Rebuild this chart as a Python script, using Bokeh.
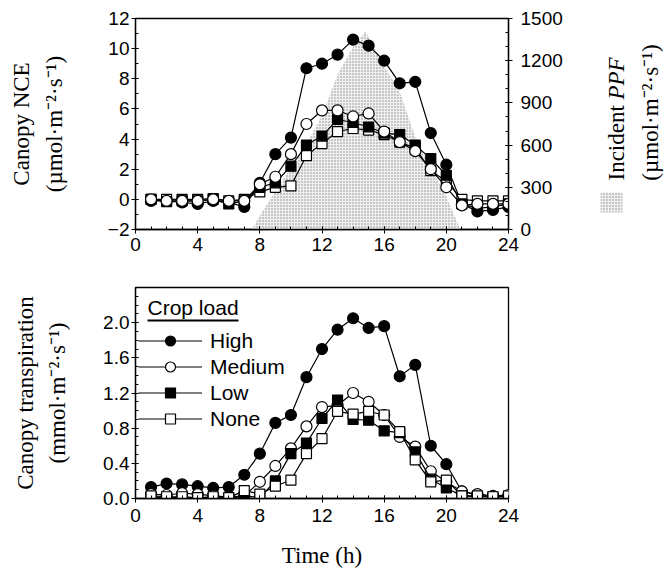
import math
from bokeh.plotting import figure
from bokeh.models import (Range1d, LinearAxis, SingleIntervalTicker, Legend, LegendItem,
                          Label, BoxAnnotation, PrintfTickFormatter)
from bokeh.layouts import column, row
from bokeh.embed import file_html
from bokeh.resources import INLINE

# ---------------- data ----------------
hours = list(range(1, 25))

nce_high = [-0.1, -0.1, -0.2, -0.3, -0.1, -0.2, -0.5, 1.1, 3.0, 4.1, 8.7, 9.0, 9.6, 10.6,
            10.2, 9.2, 7.7, 7.8, 4.4, 2.3, -0.3, -0.8, -0.7, -0.5]
nce_medium = [0.0, -0.1, -0.1, -0.1, 0.0, -0.1, -0.1, 1.0, 1.5, 3.0, 5.0, 5.9, 5.9, 5.5,
              5.7, 4.5, 3.8, 3.2, 2.0, 0.8, -0.4, -0.3, -0.3, -0.3]
nce_low = [0.0, -0.15, -0.1, -0.1, 0.0, -0.3, -0.1, 0.8, 1.1, 2.2, 3.6, 4.2, 5.3, 5.1,
           4.8, 4.4, 4.3, 3.6, 2.7, 1.6, -0.3, -0.6, -0.5, -0.3]
nce_none = [0.0, 0.0, 0.0, 0.0, 0.05, -0.1, 0.0, 0.5, 0.8, 0.9, 2.9, 3.7, 4.5, 4.7,
            4.6, 4.3, 3.8, 3.4, 1.9, 1.2, 0.0, -0.1, -0.1, -0.1]

ppf_hours = [7.5, 8, 9, 10, 11, 12, 13, 14, 14.8, 16, 17, 18, 19, 20, 20.9]
ppf_vals = [0, 100, 270, 440, 610, 810, 1100, 1300, 1410, 1160, 980, 660, 440, 235, 0]

tr_high = [0.13, 0.17, 0.16, 0.14, 0.12, 0.13, 0.27, 0.51, 0.86, 0.95, 1.38, 1.70, 1.92, 2.05,
           1.94, 1.96, 1.39, 1.52, 0.60, 0.39, 0.08, 0.04, 0.02, 0.03]
tr_medium = [0.05, 0.04, 0.06, 0.05, 0.03, 0.015, 0.03, 0.19, 0.37, 0.57, 0.82, 1.04, 1.06, 1.20,
             1.10, 0.95, 0.70, 0.59, 0.31, 0.19, 0.08, 0.05, 0.03, 0.04]
tr_low = [0.01, 0.01, 0.01, 0.01, 0.01, 0.0, 0.03, 0.01, 0.20, 0.51, 0.63, 0.91, 1.12, 0.90,
          0.89, 0.77, 0.75, 0.53, 0.22, 0.12, 0.03, 0.02, 0.02, 0.02]
tr_none = [0.03, 0.02, 0.02, 0.01, 0.02, 0.01, 0.09, 0.05, 0.14, 0.21, 0.51, 0.68, 0.99, 0.96,
           0.99, 0.95, 0.76, 0.44, 0.19, 0.21, 0.03, 0.03, 0.02, 0.03]

series_names = ["High", "Medium", "Low", "None"]
time_label = "Time (h)"

SERIF = "Liberation Serif"
SANS = "Liberation Sans"
STIPPLE = dict(fill_color="#efefef", hatch_pattern="dot", hatch_color="#8a8a8a",
               hatch_scale=3, hatch_weight=1.0)


def style_axis(ax, label_size="23px"):
    ax.axis_line_color = "black"
    ax.axis_line_width = 1.3
    ax.major_tick_line_color = "black"
    ax.minor_tick_line_color = "black"
    ax.major_tick_in = 3
    ax.major_tick_out = 4
    ax.minor_tick_in = 3
    ax.minor_tick_out = 0
    ax.major_label_text_font = SANS
    ax.major_label_text_font_size = "19px"
    ax.major_label_text_color = "black"
    ax.axis_label_text_font = SERIF
    ax.axis_label_text_font_style = "normal"
    ax.axis_label_text_font_size = label_size
    ax.axis_label_text_color = "black"


# ---------------- top panel ----------------
top = figure(width=575, height=270, x_range=Range1d(0, 24), y_range=Range1d(-2, 12),
             output_backend="svg", toolbar_location=None,
             min_border_left=135, min_border_right=67, min_border_top=18, min_border_bottom=41)
top.extra_y_ranges = {"ppf": Range1d(0, 1500)}
top.xgrid.visible = False
top.ygrid.visible = False
top.outline_line_color = "black"
top.outline_line_width = 1.3

top.varea(x=ppf_hours, y1=0, y2=ppf_vals, y_range_name="ppf", **STIPPLE)

for y, m, fc in [(nce_high, "circle", "black"), (nce_none, "square", "white"),
                 (nce_low, "square", "black"), (nce_medium, "circle", "white")]:
    top.line(hours, y, line_color="black", line_width=1.2)
    top.scatter(hours, y, marker=m, size=11 if m == "circle" else 10,
                fill_color=fc, line_color="black", line_width=1.2)

top.xaxis.ticker = SingleIntervalTicker(interval=4, num_minor_ticks=4)
top.yaxis.ticker = SingleIntervalTicker(interval=2, num_minor_ticks=2)
style_axis(top.xaxis[0])
style_axis(top.yaxis[0])
top.xaxis.major_label_standoff = 4
top.yaxis.major_label_standoff = 2
top.yaxis.axis_label = "Canopy NCE\n(µmol·m⁻²·s⁻¹)"
top.yaxis.axis_label_standoff = 38
top.yaxis.axis_label_text_line_height = 1.3

rax = LinearAxis(y_range_name="ppf", ticker=SingleIntervalTicker(interval=300, num_minor_ticks=3))
style_axis(rax)
rax.major_label_standoff = 8
top.add_layout(rax, "right")

# side panel holding the right-hand label (with italic PPF) and the stipple key
# (its frame is aligned with the top panel's frame: screen y is measured from y = -2)
side = figure(width=89, height=270, x_range=Range1d(0, 1), y_range=Range1d(0, 1),
              output_backend="svg", toolbar_location=None,
              x_axis_location=None, y_axis_location=None, min_border=0)
side.outline_line_color = None
side.xgrid.visible = False
side.ygrid.visible = False
lab_kw = dict(x_units="screen", y_units="screen", angle=math.pi / 2,
              text_font=SERIF, text_font_size="23px", text_color="black")
side.add_layout(Label(x=41, y=49, text="Incident ", text_align="left",
                      text_baseline="middle", **lab_kw))
side.add_layout(Label(x=41, y=130, text="PPF", text_align="left", text_baseline="middle",
                      text_font_style="italic", **lab_kw))
side.add_layout(Label(x=75, y=117, text="(µmol·m⁻²·s⁻¹)", text_align="center",
                      text_baseline="middle", **lab_kw))
side.add_layout(BoxAnnotation(left=25, right=47, bottom=17, top=37,
                              left_units="screen", right_units="screen",
                              bottom_units="screen", top_units="screen",
                              fill_alpha=1, line_alpha=0, **STIPPLE))

# ---------------- bottom panel ----------------
bot = figure(width=664, height=301, x_range=Range1d(0, 24), y_range=Range1d(0, 2.4),
             output_backend="svg", toolbar_location=None,
             min_border_left=135, min_border_right=156, min_border_top=17, min_border_bottom=73)
bot.xgrid.visible = False
bot.ygrid.visible = False
bot.outline_line_color = "black"
bot.outline_line_width = 1.3

items = []
for name, y, m, fc in [("High", tr_high, "circle", "black"), ("Medium", tr_medium, "circle", "white"),
                       ("Low", tr_low, "square", "black"), ("None", tr_none, "square", "white")]:
    l = bot.line(hours, y, line_color="black", line_width=1.2)
    s = bot.scatter(hours, y, marker=m, size=11 if m == "circle" else 10,
                    fill_color=fc, line_color="black", line_width=1.2)
    items.append(LegendItem(label=name, renderers=[l, s]))

bot.xaxis.ticker = SingleIntervalTicker(interval=4, num_minor_ticks=4)
bot.yaxis.ticker = SingleIntervalTicker(interval=0.4, num_minor_ticks=4)
bot.yaxis.formatter = PrintfTickFormatter(format="%.1f")
style_axis(bot.xaxis[0])
style_axis(bot.yaxis[0])
bot.xaxis.major_label_standoff = 6
bot.yaxis.major_label_standoff = 2
bot.xaxis.axis_label = time_label
bot.xaxis.axis_label_standoff = 18
bot.yaxis.axis_label = "Canopy transpiration\n(mmol·m⁻²·s⁻¹)"
bot.yaxis.axis_label_standoff = 30
bot.yaxis.axis_label_text_line_height = 1.3

legend = Legend(items=items, location=(3, 67), orientation="vertical",
                glyph_width=64, glyph_height=25, label_height=25, spacing=1,
                label_standoff=8, padding=0, margin=0,
                border_line_alpha=0, background_fill_alpha=0,
                label_text_font=SANS, label_text_font_size="21px", label_text_color="black")
bot.add_layout(legend)

bot.add_layout(Label(x=12, y=191, x_units="screen", y_units="screen", text="Crop load",
                     text_font=SANS, text_font_size="21px", text_color="black",
                     text_baseline="middle", text_align="left"))
bot.add_layout(BoxAnnotation(left=12, right=103, bottom=177, top=179,
                             left_units="screen", right_units="screen",
                             bottom_units="screen", top_units="screen",
                             fill_color="black", fill_alpha=1, line_alpha=0))

layout = column(row(top, side, spacing=0), bot, spacing=0)
open("out.html", "w").write(file_html(layout, INLINE))
